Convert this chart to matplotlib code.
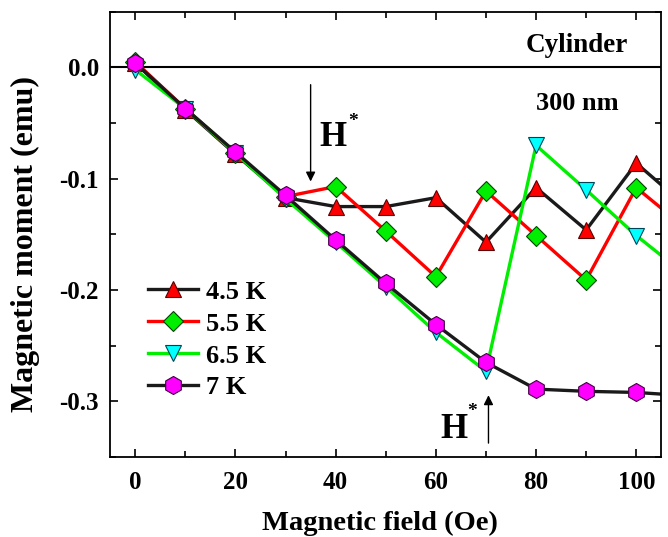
import matplotlib
matplotlib.use("Agg")
import matplotlib.pyplot as plt
from matplotlib.ticker import MultipleLocator, FormatStrFormatter

plt.rcParams['font.family'] = ['Liberation Serif', 'DejaVu Serif']
plt.rcParams['font.weight'] = 'bold'

# data
field = [0, 10, 20, 30, 40, 50, 60, 70, 80, 90, 100, 110]
m_45 = [0.004, -0.038, -0.078, -0.117, -0.125, -0.125, -0.117, -0.157, -0.108, -0.146, -0.086, -0.125]
m_55 = [0.005, -0.037, -0.077, -0.116, -0.107, -0.147, -0.188, -0.111, -0.151, -0.191, -0.108, -0.145]
m_65 = [-0.002, -0.037, -0.077, -0.118, -0.157, -0.197, -0.238, -0.273, -0.070, -0.110, -0.151, -0.187]
m_7 = [0.004, -0.037, -0.076, -0.115, -0.155, -0.194, -0.231, -0.265, -0.289, -0.291, -0.292, -0.295]
labels = ['4.5 K', '5.5 K', '6.5 K', '7 K']

fig = plt.figure(figsize=(6.68, 5.37), dpi=100)
ax = fig.add_axes([0.165, 0.149, 0.825, 0.829])

ax.axhline(0, color='black', lw=1.5, zorder=1)

ax.plot(field, m_45, color='#1a1a1a', lw=2.4, marker='^', ms=12, mfc='red', mec='#550000', mew=0.8, label=labels[0])
ax.plot(field, m_55, color='red', lw=2.4, marker='D', ms=10, mfc='#00ee00', mec='#004400', mew=0.8, label=labels[1])
ax.plot(field, m_65, color='#00ee00', lw=2.4, marker='v', ms=12, mfc='cyan', mec='#004455', mew=0.8, label=labels[2])
ax.plot(field, m_7, color='#1a1a1a', lw=2.4, marker='h', ms=13, mfc='magenta', mec='#440044', mew=0.8, label=labels[3])

ax.set_xlim(-5, 105)
ax.set_ylim(-0.35, 0.05)
ax.xaxis.set_major_locator(MultipleLocator(20))
ax.xaxis.set_minor_locator(MultipleLocator(10))
ax.yaxis.set_major_locator(MultipleLocator(0.1))
ax.yaxis.set_minor_locator(MultipleLocator(0.05))
ax.yaxis.set_major_formatter(FormatStrFormatter('%.1f'))
ax.tick_params(which='both', direction='in', top=True, right=True, width=1.2)
ax.tick_params(which='major', length=6, labelsize=18)
ax.tick_params(axis='x', which='major', pad=10)
ax.tick_params(axis='y', which='major', pad=8)
ax.tick_params(which='minor', length=4)
for s in ax.spines.values():
    s.set_linewidth(1.3)

ax.set_xlabel('Magnetic field (Oe)', fontsize=20.5, fontweight='bold', va='center')
ax.xaxis.set_label_coords(0.49, -0.15)
ax.set_ylabel('Magnetic moment (emu)', fontsize=23, fontweight='bold', va='center')
ax.yaxis.set_label_coords(-0.154, 0.479)

ax.text(0.939, 0.925, 'Cylinder', transform=ax.transAxes, ha='right', va='center', fontsize=19.5, fontweight='bold')
ax.text(0.922, 0.794, '300 nm', transform=ax.transAxes, ha='right', va='center', fontsize=19, fontweight='bold')

# H* arrows
ax.annotate('', xy=(35, -0.105), xytext=(35, -0.013),
            arrowprops=dict(arrowstyle='-|>', color='black', lw=1, mutation_scale=14))
ax.text(39.4, -0.063, 'H', fontsize=25, fontweight='bold', ha='center', va='center')
ax.text(43.4, -0.049, '*', fontsize=14, fontweight='bold', ha='center', va='center')
ax.annotate('', xy=(70.5, -0.292), xytext=(70.5, -0.340),
            arrowprops=dict(arrowstyle='-|>', color='black', lw=1, mutation_scale=14))
ax.text(63.6, -0.325, 'H', fontsize=25, fontweight='bold', ha='center', va='center')
ax.text(67.3, -0.309, '*', fontsize=14, fontweight='bold', ha='center', va='center')

ax.legend(loc='upper left', bbox_to_anchor=(0.069, 0.397), frameon=False, fontsize=19,
          handlelength=1.9, handletextpad=0.27, labelspacing=0.32, borderaxespad=0, borderpad=0)

fig.savefig('out.png', dpi=100)
